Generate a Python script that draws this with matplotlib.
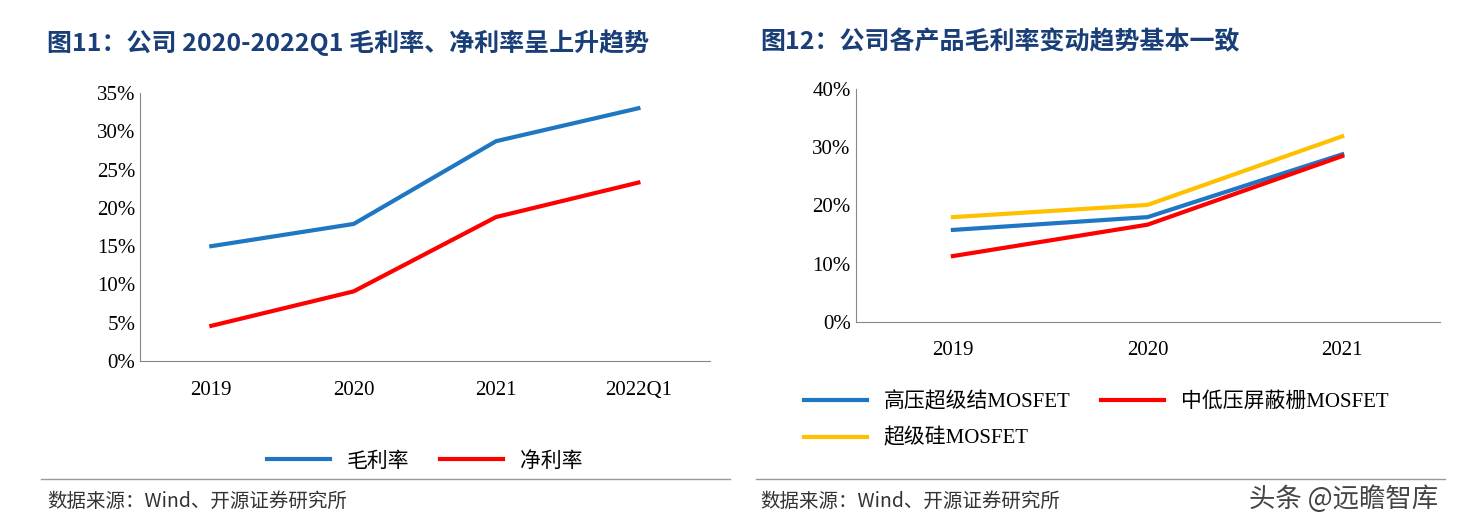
import matplotlib
matplotlib.use("Agg")
import matplotlib.pyplot as plt
from matplotlib.lines import Line2D
from matplotlib.ticker import PercentFormatter

plt.rcParams["font.family"] = ["Noto Sans CJK SC", "DejaVu Sans"]

# ---- 数据 ----
years_l = ["2019", "2020", "2021", "2022Q1"]
gross = [15.0, 17.9, 28.7, 33.0]
net = [4.6, 9.1, 18.8, 23.3]

years_r = ["2019", "2020", "2021"]
hv_sj = [15.8, 18.0, 28.8]
mlv_sgt = [11.3, 16.7, 28.5]
super_si = [18.0, 20.1, 31.9]

BLUE = "#1F77C4"
RED = "#FF0000"
YEL = "#FFC000"
TITLE_C = "#1A3E78"
SERIF = ["Liberation Serif", "Noto Sans CJK SC"]

fig = plt.figure(figsize=(14.6, 5.31), dpi=100)


def style(ax, cats):
    for s in ("top", "right"):
        ax.spines[s].set_visible(False)
    for s in ("left", "bottom"):
        ax.spines[s].set_color("#888888")
    ax.set_xticks(range(len(cats)), cats)
    ax.set_xlim(-0.5, len(cats) - 0.5)
    ax.tick_params(axis="x", length=0, pad=14)
    ax.tick_params(axis="y", length=0)
    ax.yaxis.set_major_formatter(PercentFormatter(decimals=0))
    for lab in ax.get_xticklabels() + ax.get_yticklabels():
        lab.set_fontfamily(SERIF)
        lab.set_fontsize(15)


# 左图
ax1 = fig.add_axes([0.096, 0.320, 0.390, 0.505])
ax1.plot(range(4), gross, color=BLUE, lw=3, label="毛利率")
ax1.plot(range(4), net, color=RED, lw=3, label="净利率")
ax1.set_ylim(0, 35)
ax1.set_yticks(range(0, 36, 5))
style(ax1, years_l)
ax1.legend(loc="upper center", bbox_to_anchor=(0.5, -0.26), ncol=2, frameon=False,
           fontsize=15, handlelength=3, columnspacing=1.5)

# 右图
ax2 = fig.add_axes([0.586, 0.394, 0.400, 0.438])
h1, = ax2.plot(range(3), hv_sj, color=BLUE, lw=3, label="高压超级结MOSFET")
h2, = ax2.plot(range(3), mlv_sgt, color=RED, lw=3, label="中低压屏蔽栅MOSFET")
h3, = ax2.plot(range(3), super_si, color=YEL, lw=3, label="超级硅MOSFET")
ax2.set_ylim(0, 40)
ax2.set_yticks(range(0, 41, 10))
style(ax2, years_r)
leg = ax2.legend(handles=[h1, h3, h2], loc="upper left", bbox_to_anchor=(-0.12, -0.22),
                 ncol=2, frameon=False, fontsize=15, handlelength=3, columnspacing=1.5,
                 labelspacing=0.8)
for t in leg.get_texts():
    t.set_fontfamily(SERIF)

# 标题
fig.text(0.032, 0.92, "图11：公司 2020-2022Q1 毛利率、净利率呈上升趋势", fontsize=18,
         fontweight="bold", color=TITLE_C, va="center")
fig.text(0.521, 0.92, "图12：公司各产品毛利率变动趋势基本一致", fontsize=18,
         fontweight="bold", color=TITLE_C, va="center")

# 分隔线
for x0, x1 in [(0.028, 0.5), (0.518, 0.99)]:
    fig.add_artist(Line2D([x0, x1], [0.098, 0.098], color="#999999", lw=1))

# 来源
fig.text(0.032, 0.055, "数据来源：Wind、开源证券研究所", fontsize=14, color="#333333", va="center")
fig.text(0.521, 0.055, "数据来源：Wind、开源证券研究所", fontsize=14, color="#333333", va="center")
fig.text(0.985, 0.06, "头条 @远瞻智库", fontsize=19, color="#444444", va="center", ha="right")

fig.savefig("out.png", dpi=100)
